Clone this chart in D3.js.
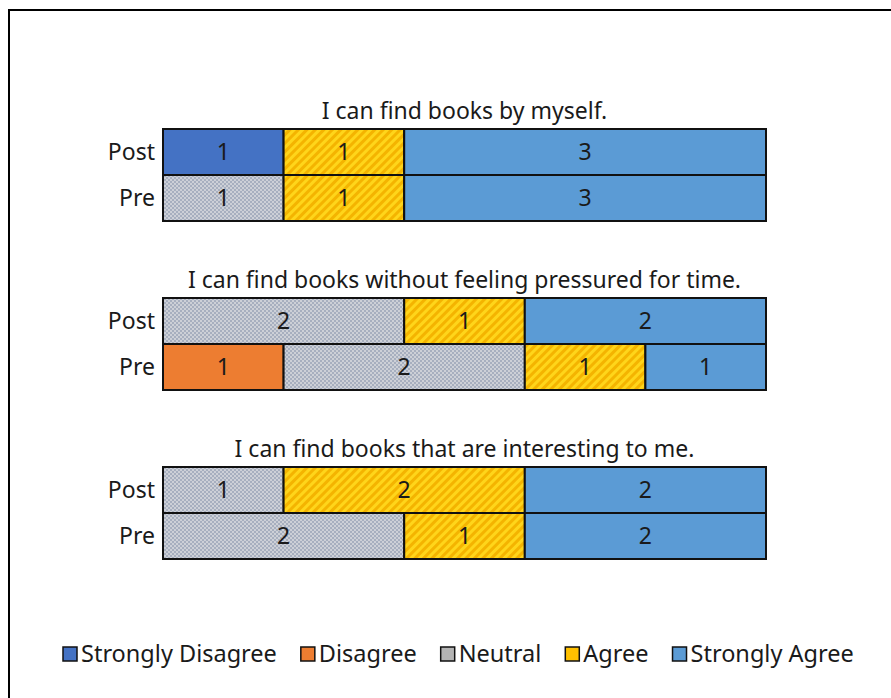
<!DOCTYPE html>
<html>
<head>
<meta charset="UTF-8" />
<title>Survey chart</title>
<script src="https://cdn.jsdelivr.net/npm/d3@7"></script>
<style>
  body { margin: 0; background: #fff; }
  text { font-family: "Noto Sans", "Open Sans", sans-serif; fill: #1a1a1a; }
</style>
</head>
<body>
<script>
// data
var questions = ["I can find books by myself.",
                 "I can find books without feeling pressured for time.",
                 "I can find books that are interesting to me."];
var rows = ["Post", "Pre"];
var levels = ["Strongly Disagree", "Disagree", "Neutral", "Agree", "Strongly Agree"];
// counts per level, [question][row]
var q1 = [[1, 0, 0, 1, 3], [0, 0, 1, 1, 3]];
var q2 = [[0, 0, 2, 1, 2], [0, 1, 2, 1, 1]];
var q3 = [[0, 0, 1, 2, 2], [0, 0, 2, 1, 2]];
var counts = [q1, q2, q3];
var colors = ["#4472c4", "#ed7d31", "#c3c7ce", "#ffc000", "#5b9bd5"];

var W = 891, H = 698;
var svg = d3.select("body").append("svg").attr("width", W).attr("height", H);

var defs = svg.append("defs");
// dotted pattern for neutral
var pn = defs.append("pattern").attr("id", "pat-neutral").attr("patternUnits", "userSpaceOnUse")
  .attr("width", 4).attr("height", 4);
pn.append("rect").attr("width", 4).attr("height", 4).attr("fill", "#cdd0d7");
pn.append("rect").attr("width", 2).attr("height", 2).attr("fill", "#a7afbf");
pn.append("rect").attr("x", 2).attr("y", 2).attr("width", 2).attr("height", 2).attr("fill", "#a7afbf");
// hatched pattern for agree
var pa = defs.append("pattern").attr("id", "pat-agree").attr("patternUnits", "userSpaceOnUse")
  .attr("width", 6).attr("height", 6).attr("patternTransform", "rotate(45)");
pa.append("rect").attr("width", 6).attr("height", 6).attr("fill", "#ffd51a");
pa.append("rect").attr("width", 3).attr("height", 6).attr("fill", "#f4b400");
var fills = [colors[0], colors[1], "url(#pat-neutral)", "url(#pat-agree)", colors[4]];

// outer frame (runs off the right and bottom)
svg.append("rect").attr("x", 9).attr("y", 10).attr("width", W + 20).attr("height", H + 20)
  .attr("fill", "none").attr("stroke", "#000").attr("stroke-width", 2);

var x = d3.scaleLinear().domain([0, 5]).range([163, 766]);
var groupY = d3.scalePoint().domain(d3.range(questions.length)).range([129, 467]);
var y = d3.scaleBand().domain(rows).range([0, 92]);
var fs = "23px";

questions.forEach(function(q, qi) {
  var g = svg.append("g").attr("transform", "translate(0," + groupY(qi) + ")");
  g.append("text").attr("x", (x.range()[0] + x.range()[1]) / 2).attr("y", -10)
    .attr("text-anchor", "middle").style("font-size", fs).text(q);

  rows.forEach(function(r, ri) {
    var vals = counts[qi][ri];
    var cum = 0;
    var segs = vals.map(function(v, li) { var s = {level: li, v: v, x0: cum}; cum += v; return s; })
      .filter(function(s) { return s.v > 0; });
    var rg = g.append("g").attr("transform", "translate(0," + y(r) + ")");
    rg.selectAll("rect").data(segs).enter().append("rect")
      .attr("x", function(d) { return x(d.x0); })
      .attr("y", 0)
      .attr("width", function(d) { return x(d.x0 + d.v) - x(d.x0); })
      .attr("height", y.bandwidth())
      .attr("fill", function(d) { return fills[d.level]; })
      .attr("stroke", "#111").attr("stroke-width", 2);
    rg.selectAll("text.val").data(segs).enter().append("text").attr("class", "val")
      .attr("x", function(d) { return x(d.x0 + d.v / 2); })
      .attr("y", y.bandwidth() / 2).attr("dy", "0.36em")
      .attr("text-anchor", "middle").style("font-size", fs)
      .text(function(d) { return d.v; });
    rg.append("text").attr("x", 155).attr("y", y.bandwidth() / 2).attr("dy", "0.36em")
      .attr("text-anchor", "end").style("font-size", fs).text(r);
  });
});

// legend
var lg = svg.append("g").attr("transform", "translate(63,654)");
var lx = 0;
levels.forEach(function(l, i) {
  var it = lg.append("g").attr("transform", "translate(" + lx + ",0)");
  it.append("rect").attr("x", 0).attr("y", -7).attr("width", 14).attr("height", 14)
    .attr("fill", i == 2 ? "#b4b4b4" : colors[i]).attr("stroke", "#111").attr("stroke-width", 1.5);
  var t = it.append("text").attr("x", 18).attr("dy", "0.36em").style("font-size", "23.5px").text(l);
  lx += 18 + t.node().getComputedTextLength() + 24;
});
</script>
</body>
</html>
